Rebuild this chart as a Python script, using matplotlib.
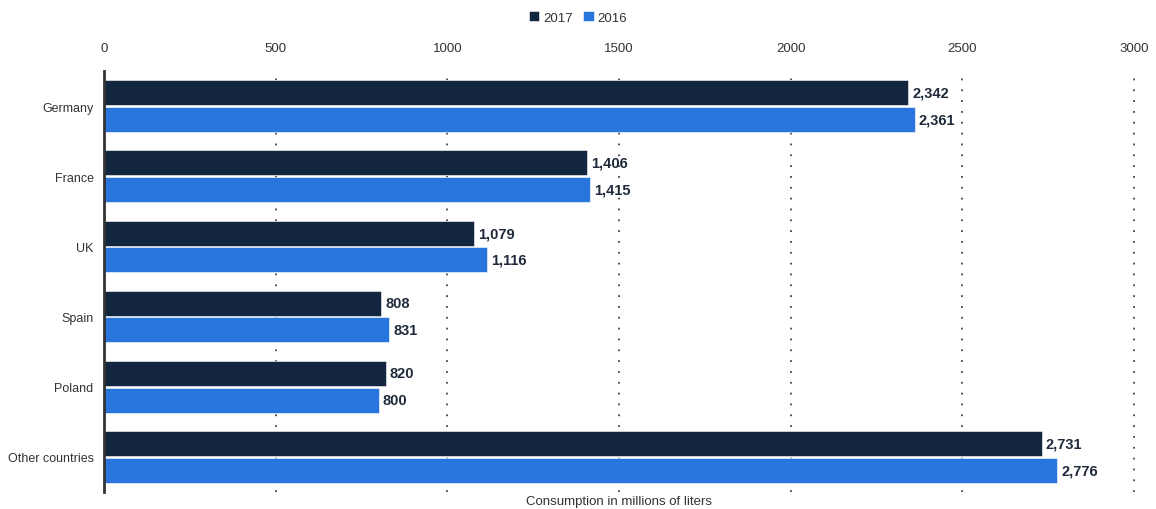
import matplotlib
matplotlib.use("Agg")
import matplotlib.pyplot as plt
import numpy as np

plt.rcParams['font.family'] = ['Liberation Sans', 'DejaVu Sans']

countries = ["Germany", "France", "UK", "Spain", "Poland", "Other countries"]
values_2017 = [2342, 1406, 1079, 808, 820, 2731]
values_2016 = [2361, 1415, 1116, 831, 800, 2776]
x_ticks = [0, 500, 1000, 1500, 2000, 2500, 3000]

dark = "#12263f"
blue = "#2876dd"
text_col = "#333333"

fig = plt.figure(figsize=(11.56, 5.10), dpi=100)
ax = fig.add_axes([0.090, 0.0333, 0.891, 0.8255])

y = np.arange(len(countries))
h = 0.355
off = 0.19
ax.barh(y - off, values_2017, height=h, color=dark, edgecolor="white", linewidth=0.4, label="2017", zorder=3)
ax.barh(y + off, values_2016, height=h, color=blue, edgecolor="white", linewidth=0.4, label="2016", zorder=3)

for yi, v in zip(y - off, values_2017):
    ax.text(v + 12, yi, f"{v:,}", va="center", ha="left", fontsize=10.5, fontweight="bold", color="#1f2a3a", zorder=4)
for yi, v in zip(y + off, values_2016):
    ax.text(v + 12, yi, f"{v:,}", va="center", ha="left", fontsize=10.5, fontweight="bold", color="#1f2a3a", zorder=4)

ax.set_xlim(0, 3000)
ax.set_ylim(len(countries) - 0.5, -0.5)
ax.set_yticks(y)
ax.set_yticklabels(countries, fontsize=9, color=text_col)
ax.set_xticks(x_ticks)
ax.set_xticklabels([str(t) for t in x_ticks], fontsize=9.5, color=text_col)
ax.xaxis.tick_top()
ax.tick_params(axis="y", length=0, pad=7.5)
ax.tick_params(axis="x", length=0, pad=12)

for t in x_ticks[1:]:
    ax.axvline(t, color="#444444", linestyle=(0, (1, 5)), linewidth=1.3, zorder=1, clip_on=False)

for s in ["top", "right", "bottom"]:
    ax.spines[s].set_visible(False)
ax.spines["left"].set_color("#333333")
ax.spines["left"].set_linewidth(2)
ax.spines["left"].set_zorder(5)

ax.set_xlabel("Consumption in millions of liters", fontsize=9.5, color=text_col, labelpad=2)

fig.legend(loc="upper center", bbox_to_anchor=(0.5, 1.0), ncol=2, frameon=False,
           fontsize=9.5, handlelength=0.8, handleheight=0.8, handletextpad=0.3,
           columnspacing=0.8, labelcolor=text_col)

fig.savefig("out.png", dpi=100)
